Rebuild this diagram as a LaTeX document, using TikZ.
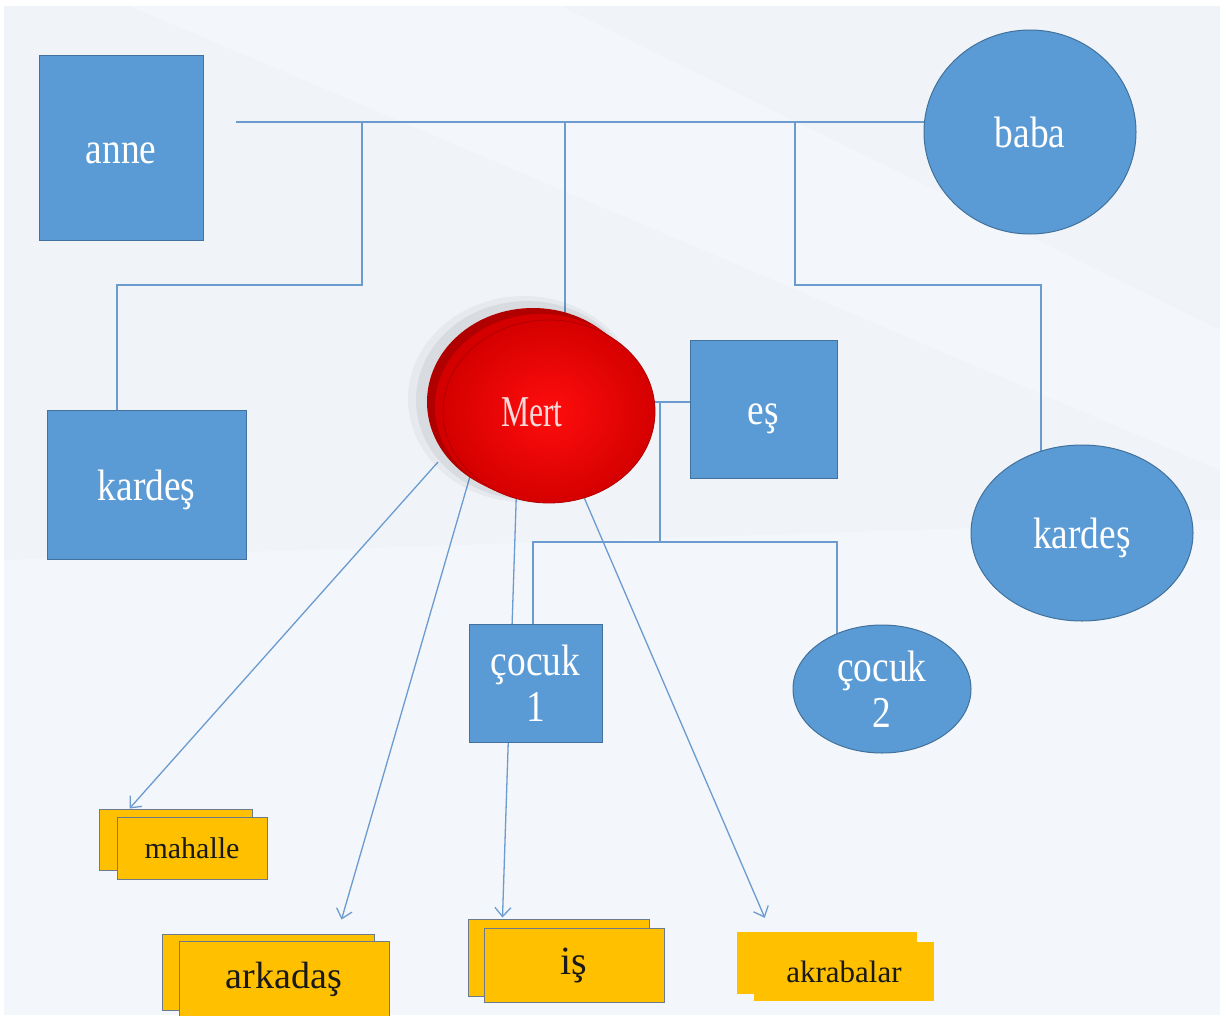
\documentclass[tikz,border=0pt]{standalone}
\usepackage{fontspec}
\setmainfont{Liberation Serif}
\newfontfamily\tallserif[FakeStretch=0.85]{Liberation Serif}
\newfontfamily\mertserif[FakeStretch=0.72]{Liberation Serif}
\newfontfamily\cardserif{Liberation Serif}
\usetikzlibrary{shapes.geometric,arrows.meta}
\pgfdeclarelayer{back}
\pgfdeclarelayer{lines}
\pgfsetlayers{back,lines,main}
\definecolor{bfill}{HTML}{5B9BD5}
\definecolor{bdraw}{HTML}{41719C}
\definecolor{lcol}{HTML}{6C9BD0}
\definecolor{yfill}{HTML}{FFC000}
\definecolor{ydraw}{HTML}{6B7B8C}
\definecolor{bgc}{HTML}{F0F4F9}
\definecolor{mdark}{HTML}{B00000}
\definecolor{mmid}{HTML}{D40000}
\definecolor{mred}{HTML}{F20000}
\definecolor{mtext}{HTML}{F6DADA}
\begin{document}
\begin{tikzpicture}[x=1pt,y=-1pt,
  person/.style={fill=bfill, draw=bdraw, line width=1pt, text=white, inner sep=0pt,
    font=\tallserif\fontsize{44}{46}\selectfont, align=center},
  oneline/.style={text height=40pt, text depth=9pt},
  prect/.style={person, rectangle},
  pell/.style={person, ellipse},
  conn/.style={draw=lcol, line width=1.3pt},
  arr/.style={conn, -{Straight Barb[length=9pt,width=16pt,line width=1.3pt]}},
  ycard/.style={rectangle, fill=yfill, draw=ydraw, line width=1pt, inner sep=0pt, text=black!90},
  ycardn/.style={rectangle, fill=yfill, inner sep=0pt, text=black!90},
  mball/.style={ellipse, inner sep=0pt}
]
\useasboundingbox (0,0) rectangle (1220,1015);
\begin{pgfonlayer}{back}
  \fill[white] (0,0) rectangle (1220,1015);
  \fill[bgc] (4,6) rectangle (1220,1015);
  \fill[white, opacity=0.25] (130,6) -- (560,6) -- (1220,330) -- (1220,470) -- cycle;
  \fill[white, opacity=0.25] (4,560) -- (1220,520) -- (1220,1015) -- (4,1015) -- cycle;
\end{pgfonlayer}

% family nodes
\node[prect, oneline, minimum width=164pt, minimum height=185pt] (anne) at (121,147.5) {anne};
\node[pell, oneline, minimum width=212pt, minimum height=204pt] (baba) at (1030,132) {baba};
\node[prect, oneline, minimum width=199pt, minimum height=149pt] (kL) at (146.5,484.5) {karde\c{s}};
\node[pell, oneline, minimum width=222pt, minimum height=176pt] (kR) at (1082,533) {karde\c{s}};
\node[prect, oneline, minimum width=147pt, minimum height=138pt] (es) at (763.5,409) {e\c{s}};
\node[prect, minimum width=133pt, minimum height=118pt] (c1) at (535.5,683) {\c{c}ocuk\\1};
\node[pell, minimum width=178pt, minimum height=128pt] (c2) at (882,689) {\c{c}ocuk\\2};

% Mert
\node[mball, fill=black, opacity=0.04, minimum width=232pt, minimum height=206pt] (msh1) at (524,399) {};
\node[mball, fill=black, opacity=0.06, minimum width=222pt, minimum height=198pt] (msh2) at (527,400) {};
\node[mball, fill=mdark, minimum width=212pt, minimum height=188pt] (mertB) at (533,402) {};
\node[mball, fill=mmid, minimum width=212pt, minimum height=186pt] (mertM) at (541,407) {};
\node[mball, inner color=red!95!white, outer color=mred!88!black, draw=mdark, line width=0.8pt,
      minimum width=212pt, minimum height=183pt] (mert) at (549,411.5) {};
\node[text=mtext, font=\mertserif\fontsize{44}{50}\selectfont] (mertT) at (532,412) {Mert};

% cards
\node[ycard, minimum width=153pt, minimum height=61pt] (mahB) at (175.5,839.5) {};
\node[ycard, minimum width=150pt, minimum height=62pt, font=\cardserif\fontsize{30}{36}\selectfont] (mah) at (192,848) {mahalle};
\node[ycard, minimum width=212pt, minimum height=76pt] (arkB) at (268,972) {};
\node[ycard, minimum width=210pt, minimum height=76pt, font=\cardserif\fontsize{38}{44}\selectfont] (ark) at (284,979) {arkada\c{s}};
\node[ycard, minimum width=181pt, minimum height=77pt] (isB) at (558.5,957.5) {};
\node[ycard, minimum width=180pt, minimum height=74pt, font=\cardserif\fontsize{40}{46}\selectfont] (isN) at (574,965) {i\c{s}};
\node[ycardn, minimum width=180pt, minimum height=62pt] (akB) at (827,963) {};
\node[ycardn, minimum width=180pt, minimum height=59pt, font=\cardserif\fontsize{31}{36}\selectfont] (ak) at (844,971.5) {akrabalar};

% connectors
\begin{pgfonlayer}{lines}
  \coordinate (tl) at (236,122);
  \draw[conn] (tl) -- (tl -| baba.center);
  \coordinate (j1) at (362,122);
  \coordinate (k1) at (362,285);
  \draw[conn] (j1) -- (k1) -| ([xshift=-29.5pt]kL.north);
  \coordinate (j2) at (565,122);
  \draw[conn] (j2) -- (j2 |- mert.center);
  \coordinate (j3) at (795,122);
  \coordinate (k3) at (795,285);
  \draw[conn] (j3) -- (k3) -| ([xshift=-41pt]kR.center);
  \coordinate (ms) at (620,402);
  \draw[conn] (ms) -- (ms -| es.west);
  \coordinate (hubT) at (660,402);
  \coordinate (hub) at (660,542);
  \draw[conn] (hubT) -- (hub);
  \draw[conn] ([xshift=-2.5pt]c1.north) |- (hub) -| ([xshift=-45pt]c2.center);
  % arrows from Mert
  \coordinate (s1) at (438,462);
  \coordinate (s2) at (471,473);
  \coordinate (s3) at (516.5,490);
  \coordinate (s4) at (580,488);
  \draw[arr] (s1) -- ([xshift=31pt]mahB.north west);
  \draw[arr] (s2) -- ([xshift=180pt,yshift=14pt]arkB.north west);
  \draw[arr] (s3) -- ([xshift=35pt,yshift=1pt]isB.north west);
  \draw[arr] (s4) -- ([xshift=28pt,yshift=14pt]akB.north west);
\end{pgfonlayer}
\end{tikzpicture}
\end{document}
